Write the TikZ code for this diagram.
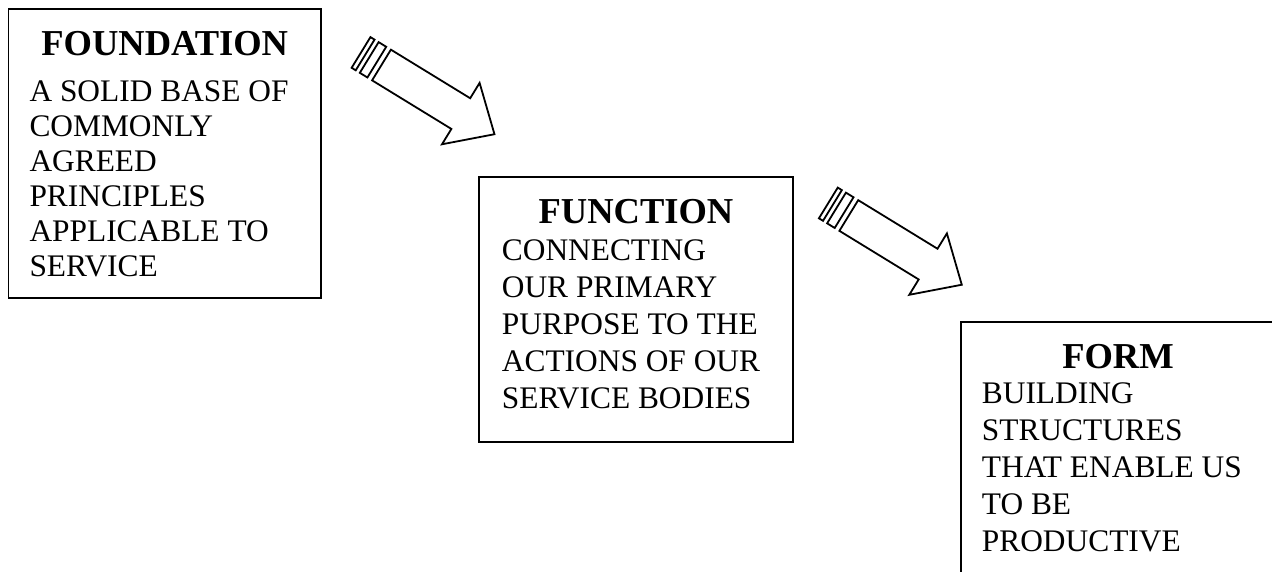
\documentclass[tikz,border=0pt]{standalone}
\usepackage{fontspec}
\setmainfont{Liberation Serif}
\begin{document}
\begin{tikzpicture}[x=1pt,y=-1pt]
\tikzset{
  boxstyle/.style={draw=black, line width=1.8pt, inner sep=0pt},
  ttl/.style={font=\fontsize{36.5}{42}\selectfont\bfseries, inner sep=0pt, anchor=base},
  bodytext/.style={font=\fontsize{31.4}{35}\selectfont, inner sep=0pt, anchor=base west},
  blockarrow/.style={draw=black, line width=1.8pt, fill=white, line join=miter},
  stripe/.style={draw=black, line width=1.8pt, fill=white},
}
\useasboundingbox (0,0) rectangle (1272,571);
\clip (0,0) rectangle (1272,571);

% Box 1
\node[boxstyle, minimum width=312.5pt, minimum height=289pt] (b1) at (164.75,153.5) {};
\node[ttl] (t1) at (164.75,55) {FOUNDATION};
\foreach \txt [count=\i] in {A SOLID BASE OF, COMMONLY, AGREED, PRINCIPLES, APPLICABLE TO, SERVICE}
  \node[bodytext] (f\i) at (29.3, {101.7+35*(\i-1)}) {\txt};

% Box 2
\node[boxstyle, minimum width=314pt, minimum height=265pt] (b2) at (636,309.5) {};
\node[ttl] (t2) at (636,223.3) {FUNCTION};
\foreach \txt [count=\i] in {CONNECTING, OUR PRIMARY, PURPOSE TO THE, ACTIONS OF OUR, SERVICE BODIES}
  \node[bodytext] (g\i) at (501.7, {260+37*(\i-1)}) {\txt};

% Box 3
\node[boxstyle, minimum width=314pt, minimum height=265pt] (b3) at (1118,454.5) {};
\node[ttl] (t3) at (1118,368) {FORM};
\foreach \txt [count=\i] in {BUILDING, STRUCTURES, THAT ENABLE US, TO BE, PRODUCTIVE}
  \node[bodytext] (h\i) at (981.7, {403.5+37*(\i-1)}) {\txt};

% Arrow 1
\begin{scope}[shift={(381.5,65)}, rotate=-31.5]
  \draw[stripe] (-24,-18) rectangle (-19.2,18);
  \draw[stripe] (-14.4,-18) rectangle (-5.5,18);
  \draw[blockarrow] (0,-18) -- (93,-18) -- (93,-36) -- (132.5,0) -- (93,36) -- (93,18) -- (0,18) -- cycle;
\end{scope}

% Arrow 2
\begin{scope}[shift={(848.8,215.5)}, rotate=-31.5]
  \draw[stripe] (-24,-18) rectangle (-19.2,18);
  \draw[stripe] (-14.4,-18) rectangle (-5.5,18);
  \draw[blockarrow] (0,-18) -- (93,-18) -- (93,-36) -- (132.5,0) -- (93,36) -- (93,18) -- (0,18) -- cycle;
\end{scope}
\end{tikzpicture}
\end{document}
